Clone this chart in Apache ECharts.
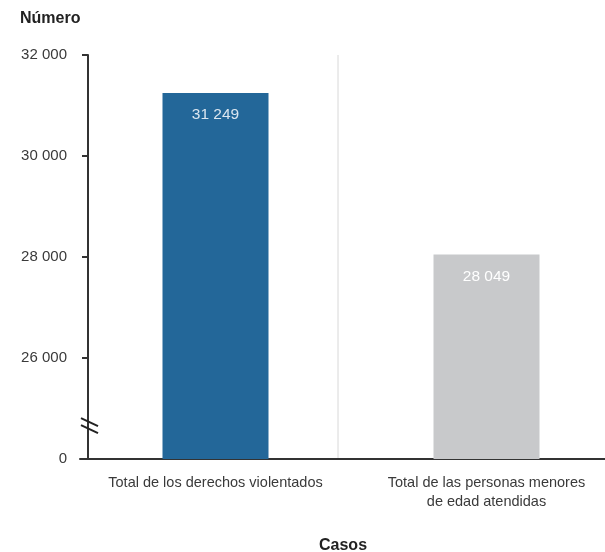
<!DOCTYPE html>
<html>
<head>
<meta charset="utf-8">
<script src="https://cdn.jsdelivr.net/npm/echarts@6/dist/echarts.min.js"></script>
<style>html,body{margin:0;padding:0;background:#fff}#c{width:605px;height:552px}</style>
</head>
<body>
<div id="c"></div>
<script>
var categories = ['Total de los derechos violentados', 'Total de las personas menores\nde edad atendidas'];
var values = [31249, 28049];
var barColors = ['#236799', '#c8c9cb'];
var labelColors = ['#dbe6f0', '#ffffff'];
var yTicks = [24000, 26000, 28000, 30000, 32000];
var yTickLabels = ['0', '26 000', '28 000', '30 000', '32 000'];
var axisBase = 24000;

var FONT = 'Liberation Sans';
var chart = echarts.init(document.getElementById('c'), null, {renderer: 'canvas'});

function fmt(v) {
  var i = yTicks.indexOf(v);
  return i >= 0 ? yTickLabels[i] : '';
}
function numFmt(v) {
  return String(v).replace(/\B(?=(\d{3})+(?!\d))/g, ' ');
}

var option = {
  backgroundColor: '#fff',
  animation: false,
  title: [
    {text: 'Número', left: 15, top: 6, textStyle: {fontFamily: FONT, fontSize: 16, fontWeight: 'bold', color: '#222'}},
    {text: 'Casos', left: 314, top: 533, textStyle: {fontFamily: FONT, fontSize: 16, fontWeight: 'bold', color: '#222'}}
  ],
  grid: {left: 80, top: 55, width: 542, bottom: 93, containLabel: false, outerBoundsMode: 'none'},
  xAxis: {
    type: 'category',
    data: categories,
    axisLine: {lineStyle: {color: '#333', width: 2}},
    axisTick: {show: false},
    axisLabel: {fontFamily: FONT, fontSize: 14.5, color: '#3a3a3a', margin: 14, lineHeight: 19, interval: 0},
    splitLine: {show: false}
  },
  yAxis: {
    type: 'value',
    min: yTicks[0],
    max: yTicks[yTicks.length - 1],
    interval: 2000,
    offset: -8,
    axisLine: {show: true, lineStyle: {color: '#333', width: 2}},
    axisTick: {show: true, length: 6, lineStyle: {color: '#333', width: 2}},
    axisLabel: {fontFamily: FONT, fontSize: 15, color: '#3a3a3a', margin: 21, formatter: fmt},
    splitLine: {show: false}
  },
  series: [{
    type: 'bar',
    barWidth: 106,
    data: values.map(function (v, i) {
      return {
        value: v,
        itemStyle: {color: barColors[i]},
        label: {color: labelColors[i]}
      };
    }),
    label: {
      show: true,
      position: 'insideTop',
      distance: 14,
      fontFamily: FONT,
      fontSize: 15.5,
      formatter: function (p) { return numFmt(p.value); }
    }
  }]
};
chart.setOption(option);

// decorations: separator and axis break, positioned from the axis scale
var yTop = chart.convertToPixel({yAxisIndex: 0}, yTicks[yTicks.length - 1]);
var yBot = chart.convertToPixel({yAxisIndex: 0}, axisBase);
var yBreak = chart.convertToPixel({yAxisIndex: 0}, axisBase + 650);
var axisX = 88;
var sepX = 338;
chart.setOption({
  graphic: [
    {type: 'line', shape: {x1: sepX, y1: yTop, x2: sepX, y2: yBot - 1}, style: {stroke: '#d8d8d8', lineWidth: 1}, z: 0},
    {type: 'line', shape: {x1: axisX - 7, y1: yBreak - 8, x2: axisX + 10, y2: yBreak}, style: {stroke: '#222', lineWidth: 2}, z: 10},
    {type: 'line', shape: {x1: axisX - 7, y1: yBreak - 1, x2: axisX + 10, y2: yBreak + 7}, style: {stroke: '#222', lineWidth: 2}, z: 10}
  ]
});
</script>
</body>
</html>
